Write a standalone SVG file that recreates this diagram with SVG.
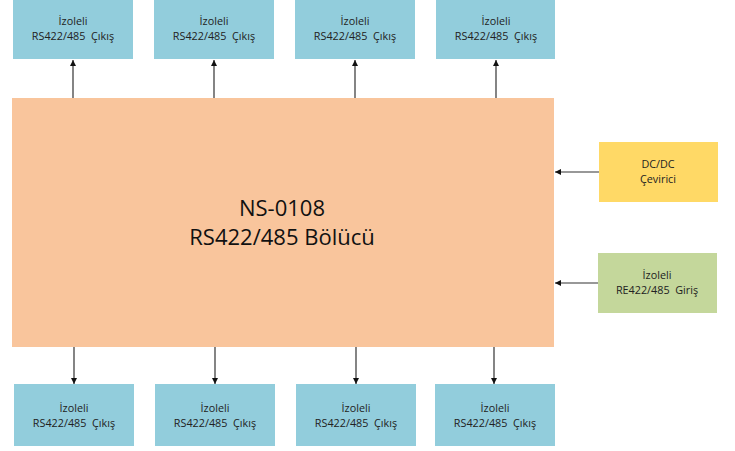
<svg xmlns="http://www.w3.org/2000/svg" width="735" height="451" viewBox="0 0 735 451">
<defs>
<style>
.out{fill:#92CDDC}
.t{font-family:"Open Sans","Liberation Sans",sans-serif;font-size:10.8px;fill:#222;text-anchor:middle}
.big{font-family:"Open Sans","Liberation Sans",sans-serif;font-size:22px;fill:#111;text-anchor:middle}
.c{stroke:#333;stroke-width:1.2;fill:none;marker-end:url(#ah)}
</style>
<marker id="ah" viewBox="0 0 10 10" refX="10" refY="5" markerWidth="6" markerHeight="6" markerUnits="userSpaceOnUse" orient="auto">
<path d="M0,0 L10,5 L0,10 z" fill="#111"/>
</marker>
</defs>
<rect width="735" height="451" fill="#fff"/>
<g id="main"><rect x="12" y="98" width="542" height="249" fill="#F9C59C"/>
<text class="big" x="282" y="216">NS-0108</text>
<text class="big" x="282" y="245">RS422/485 Bölücü</text></g>
<g id="out1"><rect class="out" x="13" y="0" width="120" height="59"/><text class="t" x="73" y="25">İzoleli</text><text class="t" x="73" y="40" xml:space="preserve">RS422/485  Çıkış</text></g>
<g id="out2"><rect class="out" x="154" y="0" width="120" height="59"/><text class="t" x="214" y="25">İzoleli</text><text class="t" x="214" y="40" xml:space="preserve">RS422/485  Çıkış</text></g>
<g id="out3"><rect class="out" x="295" y="0" width="120" height="59"/><text class="t" x="355" y="25">İzoleli</text><text class="t" x="355" y="40" xml:space="preserve">RS422/485  Çıkış</text></g>
<g id="out4"><rect class="out" x="436" y="0" width="119" height="59"/><text class="t" x="496" y="25">İzoleli</text><text class="t" x="496" y="40" xml:space="preserve">RS422/485  Çıkış</text></g>
<g id="out5"><rect class="out" x="14" y="384" width="120" height="62"/><text class="t" x="74" y="412">İzoleli</text><text class="t" x="74" y="427" xml:space="preserve">RS422/485  Çıkış</text></g>
<g id="out6"><rect class="out" x="155" y="384" width="120" height="62"/><text class="t" x="215" y="412">İzoleli</text><text class="t" x="215" y="427" xml:space="preserve">RS422/485  Çıkış</text></g>
<g id="out7"><rect class="out" x="296" y="384" width="120" height="62"/><text class="t" x="356" y="412">İzoleli</text><text class="t" x="356" y="427" xml:space="preserve">RS422/485  Çıkış</text></g>
<g id="out8"><rect class="out" x="435" y="384" width="120" height="62"/><text class="t" x="495" y="412">İzoleli</text><text class="t" x="495" y="427" xml:space="preserve">RS422/485  Çıkış</text></g>
<g id="dcdc"><rect x="599" y="142" width="119" height="60" fill="#FFD966"/><text class="t" x="658" y="168">DC/DC</text><text class="t" x="658" y="183">Çevirici</text></g>
<g id="input"><rect x="598" y="253" width="119" height="60" fill="#C4D79B"/><text class="t" x="657" y="279">İzoleli</text><text class="t" x="657" y="294" xml:space="preserve">RE422/485  Giriş</text></g>
<g id="connectors">
<line class="c" x1="73" y1="98" x2="73" y2="60"/>
<line class="c" x1="214" y1="98" x2="214" y2="60"/>
<line class="c" x1="355" y1="98" x2="355" y2="60"/>
<line class="c" x1="496" y1="98" x2="496" y2="60"/>
<line class="c" x1="74" y1="347" x2="74" y2="384"/>
<line class="c" x1="215" y1="347" x2="215" y2="384"/>
<line class="c" x1="356" y1="347" x2="356" y2="384"/>
<line class="c" x1="494" y1="347" x2="494" y2="384"/>
<line class="c" x1="599" y1="172" x2="555" y2="172"/>
<line class="c" x1="598" y1="283" x2="555" y2="283"/>
</g>
</svg>
